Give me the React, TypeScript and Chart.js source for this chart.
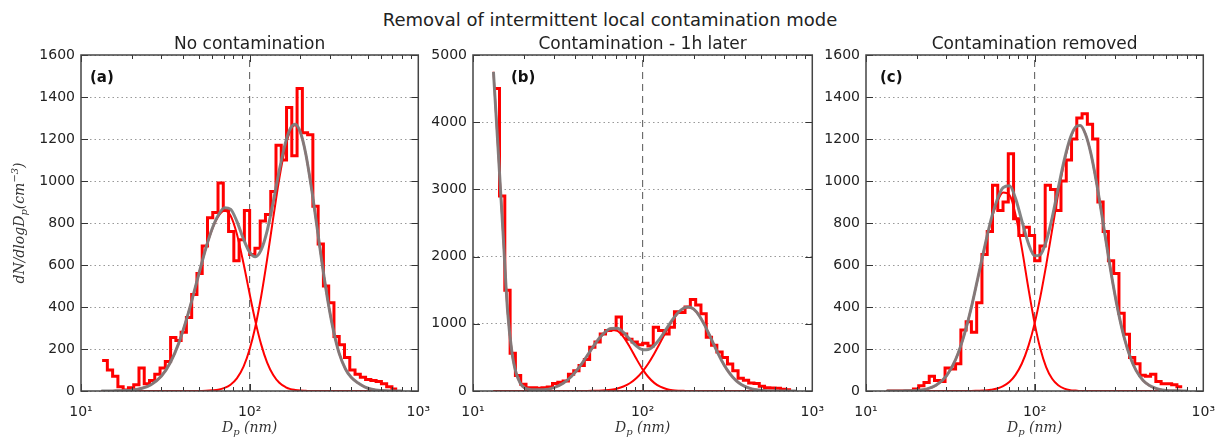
import React, { useEffect, useRef } from 'react';
import { Chart, registerables } from 'chart.js';

Chart.register(...registerables);

// ---------- data ----------
const mainTitle = 'Removal of intermittent local contamination mode';
const panelTitles = ['No contamination', 'Contamination - 1h later', 'Contamination removed'];
const panelLetters = ['(a)', '(b)', '(c)'];

const xMajorTicks = [10, 100, 1000];
const xMajorLabels = ['10¹', '10²', '10³'];
const xMinorTicks = [20, 30, 40, 50, 60, 70, 80, 90, 200, 300, 400, 500, 600, 700, 800, 900];
const dividerDiameter = 100;

// histogram bin edges (nm)
const binEdges = [
  13.34, 14.33, 15.40, 16.55, 17.78, 19.11, 20.54, 22.07, 23.71, 25.48,
  27.38, 29.43, 31.62, 33.98, 36.52, 39.24, 42.17, 45.32, 48.70, 52.33,
  56.23, 60.43, 64.94, 69.78, 74.99, 80.58, 86.60, 93.06, 100, 107.5,
  115.5, 124.1, 133.4, 143.3, 154.0, 165.5, 177.8, 191.1, 205.4, 220.7,
  237.1, 254.8, 273.8, 294.3, 316.2, 339.8, 365.2, 392.4, 421.7, 453.2,
  487.0, 523.3, 562.3, 604.3, 649.4, 697.8, 749.9,
];

const histA = [
  145, 100, 70, 20, 5, 15, 30, 110, 35, 50,
  80, 110, 140, 255, 240, 280, 350, 460, 560, 690,
  825, 850, 990, 860, 760, 620, 720, 860, 650, 680,
  810, 840, 950, 1170, 1100, 1350, 1120, 1440, 1230, 1220,
  880, 700, 500, 420, 260, 220, 160, 100, 80, 65,
  55, 50, 45, 35, 20, 10,
];
const histB = [
  4500, 2900, 1500, 560, 230, 100, 50, 50, 40, 50,
  60, 110, 130, 150, 250, 300, 380, 470, 650, 730,
  850, 900, 910, 1100, 850, 770, 730, 690, 710, 670,
  950, 900, 850, 950, 1180, 1170, 1250, 1360, 1280, 1150,
  800, 680, 580, 500, 400, 300, 190, 160, 120, 110,
  70, 50, 45, 40, 25, 20,
];
const histC = [
  0, 0, 0, 0, 0, 10, 25, 40, 70, 50,
  45, 110, 105, 130, 290, 330, 280, 420, 650, 760,
  980, 860, 900, 1130, 820, 740, 780, 740, 620, 690,
  980, 960, 860, 1000, 1100, 1200, 1300, 1320, 1270, 1200,
  900, 760, 620, 560, 370, 270, 160, 130, 75, 70,
  80, 45, 35, 35, 30, 20,
];

// fitted curves sampled at these diameters (nm)
const fitD = [
  13.2, 14, 15, 16, 17, 18, 20, 23, 26, 30,
  34, 38, 42, 46, 50, 55, 60, 65, 71, 77,
  84, 92, 100, 108, 117, 127, 138, 150, 163, 175,
  186, 200, 215, 232, 250, 270, 292, 315, 340, 370,
  400, 440, 480, 530, 600, 700, 800,
];

const modeA1 = [
  0, 0, 0, 1, 1, 2, 4, 13, 30, 71,
  138, 228, 335, 448, 558, 679, 771, 830, 858, 836,
  748, 607, 462, 334, 222, 135, 76, 39, 19, 9,
  5, 2, 1, 0, 0, 0, 0, 0, 0, 0,
  0, 0, 0, 0, 0, 0, 0,
];
const modeA2 = [
  0, 0, 0, 0, 0, 0, 0, 0, 0, 0,
  0, 0, 0, 0, 0, 1, 3, 6, 15, 30,
  60, 116, 199, 305, 450, 628, 824, 1013, 1163, 1243,
  1265, 1230, 1130, 972, 790, 598, 422, 283, 178, 105,
  65, 38, 20, 8, 2, 0, 0,
];
const totalA = [
  0, 0, 0, 1, 1, 2, 4, 13, 30, 71,
  138, 228, 335, 448, 558, 680, 774, 836, 873, 866,
  808, 723, 661, 639, 672, 763, 900, 1052, 1182, 1252,
  1270, 1232, 1131, 972, 790, 598, 422, 283, 178, 105,
  65, 38, 20, 8, 2, 0, 0,
];

const modeB0 = [
  4750, 3680, 2400, 1180, 560, 260, 50, 12, 3, 0,
  0, 0, 0, 0, 0, 0, 0, 0, 0, 0,
  0, 0, 0, 0, 0, 0, 0, 0, 0, 0,
  0, 0, 0, 0, 0, 0, 0, 0, 0, 0,
  0, 0, 0, 0, 0, 0, 0,
];
const modeB1 = [
  0, 0, 0, 0, 0, 0, 1, 5, 16, 50,
  116, 216, 344, 486, 623, 768, 867, 911, 895, 806,
  656, 475, 322, 208, 121, 64, 31, 13, 5, 2,
  0, 0, 0, 0, 0, 0, 0, 0, 0, 0,
  0, 0, 0, 0, 0, 0, 0,
];
const modeB2 = [
  0, 0, 0, 0, 0, 0, 0, 0, 0, 0,
  0, 0, 0, 1, 2, 5, 10, 19, 38, 67,
  115, 193, 293, 410, 556, 722, 893, 1050, 1170, 1233,
  1250, 1218, 1126, 980, 810, 627, 455, 315, 206, 119,
  68, 31, 14, 5, 1, 0, 0,
];
const totalB = [
  4750, 3680, 2400, 1180, 560, 260, 51, 17, 19, 50,
  116, 216, 344, 487, 625, 773, 877, 930, 933, 873,
  771, 668, 615, 618, 677, 786, 924, 1063, 1175, 1235,
  1250, 1218, 1126, 980, 810, 627, 455, 315, 206, 119,
  68, 31, 14, 5, 1, 0, 0,
];

const modeC1 = [
  0, 0, 0, 0, 1, 1, 3, 10, 27, 72,
  150, 260, 393, 535, 668, 807, 900, 945, 933, 841,
  679, 485, 322, 202, 114, 58, 27, 11, 4, 2,
  0, 0, 0, 0, 0, 0, 0, 0, 0, 0,
  0, 0, 0, 0, 0, 0, 0,
];
const modeC2 = [
  0, 0, 0, 0, 0, 0, 0, 0, 0, 0,
  0, 0, 0, 1, 2, 6, 12, 23, 44, 77,
  131, 216, 322, 447, 598, 767, 939, 1091, 1203, 1255,
  1264, 1224, 1135, 999, 842, 671, 506, 367, 253, 158,
  97, 50, 26, 11, 3, 1, 0,
];
const totalC = [
  0, 0, 0, 0, 1, 1, 3, 10, 27, 72,
  150, 260, 393, 536, 670, 813, 912, 968, 977, 918,
  810, 701, 644, 649, 712, 825, 966, 1102, 1207, 1257,
  1264, 1224, 1135, 999, 842, 671, 506, 367, 253, 158,
  97, 50, 26, 11, 3, 1, 0,
];

const yMaxes = [1600, 5000, 1600];
const ySteps = [200, 1000, 200];

// ---------- drawing helpers ----------
type Part = { t: string; size: number; dy?: number };
const SERIF = '"DejaVu Serif", serif';
const SANS = '"DejaVu Sans", sans-serif';

function drawRich(ctx: CanvasRenderingContext2D, parts: Part[], cx: number, baseline: number) {
  let total = 0;
  const widths = parts.map((p) => {
    ctx.font = `italic ${p.size}px ${SERIF}`;
    const w = ctx.measureText(p.t).width;
    total += w;
    return w;
  });
  let x = cx - total / 2;
  ctx.textAlign = 'left';
  ctx.textBaseline = 'alphabetic';
  parts.forEach((p, i) => {
    ctx.font = `italic ${p.size}px ${SERIF}`;
    ctx.fillText(p.t, x, baseline + (p.dy || 0));
    x += widths[i];
  });
}

const xLabelParts: Part[] = [
  { t: 'D', size: 14 },
  { t: 'p', size: 10, dy: 3 },
  { t: ' (nm)', size: 14 },
];
const yLabelParts: Part[] = [
  { t: 'dN/dlogD', size: 14 },
  { t: 'p', size: 10, dy: 3 },
  { t: '(cm', size: 14 },
  { t: '−3', size: 10, dy: -6 },
  { t: ')', size: 14 },
];

type PanelCfg = {
  left: number;
  width: number;
  yAxisWidth: number;
  padRight: number;
  hist: number[];
  modes: number[][];
  total: number[];
  yMax: number;
  yStep: number;
  title: string;
  letter: string;
  letterX: number;
  yLabel: boolean;
};

function makeDecor(cfg: PanelCfg) {
  return {
    id: 'decor',
    afterDatasetsDraw(chart: any) {
      const ctx: CanvasRenderingContext2D = chart.ctx;
      const a = chart.chartArea;
      const xs = chart.scales.x;
      const ys = chart.scales.y;
      ctx.save();
      ctx.strokeStyle = '#333';
      ctx.lineWidth = 1;
      const vtick = (v: number, len: number) => {
        const px = Math.round(xs.getPixelForValue(v)) + 0.5;
        ctx.beginPath();
        ctx.moveTo(px, a.bottom);
        ctx.lineTo(px, a.bottom - len);
        ctx.moveTo(px, a.top);
        ctx.lineTo(px, a.top + len);
        ctx.stroke();
      };
      xMajorTicks.forEach((v) => vtick(v, 7));
      xMinorTicks.forEach((v) => vtick(v, 4));
      ys.ticks.forEach((t: any) => {
        const py = Math.round(ys.getPixelForValue(t.value)) + 0.5;
        ctx.beginPath();
        ctx.moveTo(a.left, py);
        ctx.lineTo(a.left + 7, py);
        ctx.moveTo(a.right, py);
        ctx.lineTo(a.right - 7, py);
        ctx.stroke();
      });
      ctx.strokeStyle = '#444';
      ctx.lineWidth = 1.5;
      ctx.strokeRect(a.left, a.top, a.right - a.left, a.bottom - a.top);

      ctx.fillStyle = '#111';
      ctx.font = `bold 15px ${SANS}`;
      ctx.textAlign = 'left';
      ctx.textBaseline = 'middle';
      ctx.fillText(cfg.letter, cfg.letterX, 78);

      ctx.fillStyle = '#222';
      ctx.font = `17px ${SANS}`;
      ctx.textAlign = 'center';
      ctx.textBaseline = 'alphabetic';
      ctx.fillText(cfg.title, (a.left + a.right) / 2, 49);

      ctx.fillStyle = '#333';
      drawRich(ctx, xLabelParts, (a.left + a.right) / 2, 432);

      if (cfg.yLabel) {
        ctx.save();
        ctx.translate(19, (a.top + a.bottom) / 2);
        ctx.rotate(-Math.PI / 2);
        drawRich(ctx, yLabelParts, 0, 5);
        ctx.restore();
      }
      ctx.restore();
    },
  };
}

function Panel({ cfg }: { cfg: PanelCfg }) {
  const ref = useRef<HTMLCanvasElement>(null);
  useEffect(() => {
    if (!ref.current) return;
    const toPts = (arr: number[]) => fitD.map((x, i) => ({ x, y: arr[i] }));
    const histPts = binEdges.map((x, i) => ({ x, y: cfg.hist[Math.min(i, cfg.hist.length - 1)] }));
    const datasets: any[] = [
      {
        data: toPts(cfg.total),
        borderColor: 'rgba(125,125,125,0.95)',
        borderWidth: 3,
        cubicInterpolationMode: 'monotone',
        pointRadius: 0,
        fill: false,
      },
      ...cfg.modes.map((m) => ({
        data: toPts(m),
        borderColor: '#ff0000',
        borderWidth: 2,
        cubicInterpolationMode: 'monotone',
        pointRadius: 0,
        fill: false,
      })),
      {
        data: histPts,
        borderColor: '#ff0000',
        borderWidth: 3,
        stepped: 'before',
        pointRadius: 0,
        fill: false,
      },
      {
        data: [
          { x: dividerDiameter, y: 0 },
          { x: dividerDiameter, y: cfg.yMax },
        ],
        borderColor: '#555',
        borderWidth: 1,
        borderDash: [7, 5],
        pointRadius: 0,
        fill: false,
      },
    ];
    const chart = new Chart(ref.current, {
      type: 'line',
      data: { datasets },
      options: {
        animation: false,
        responsive: false,
        devicePixelRatio: 1,
        events: [],
        layout: { padding: { top: 55, right: cfg.padRight, bottom: 0, left: 0 } },
        plugins: { legend: { display: false }, tooltip: { enabled: false }, title: { display: false } },
        scales: {
          x: {
            type: 'logarithmic',
            min: 10,
            max: 1000,
            grid: { display: false },
            border: { display: false },
            afterBuildTicks: (scale: any) => {
              scale.ticks = xMajorTicks.map((v) => ({ value: v }));
            },
            afterFit: (scale: any) => {
              scale.height = 46;
            },
            ticks: {
              autoSkip: false,
              maxRotation: 0,
              padding: 5,
              color: '#222',
              font: { family: SANS, size: 14 },
              callback: (v: any) => {
                const i = xMajorTicks.indexOf(Number(v));
                return i >= 0 ? xMajorLabels[i] : '';
              },
            },
          },
          y: {
            type: 'linear',
            min: 0,
            max: cfg.yMax,
            grid: { color: '#999', lineWidth: 1, drawTicks: false },
            border: { display: false, dash: [1.5, 3] },
            afterFit: (scale: any) => {
              scale.width = cfg.yAxisWidth;
            },
            ticks: {
              stepSize: cfg.yStep,
              padding: 6,
              color: '#222',
              font: { family: SANS, size: 14 },
              callback: (v: any) => String(v),
            },
          },
        },
      },
      plugins: [makeDecor(cfg)],
    } as any);
    return () => chart.destroy();
  }, [cfg]);
  return (
    <canvas
      ref={ref}
      width={cfg.width}
      height={437}
      style={{ position: 'absolute', left: cfg.left, top: 0, width: cfg.width, height: 437 }}
    />
  );
}

const panelCfgs: PanelCfg[] = [
  {
    left: 0, width: 435, yAxisWidth: 81, padRight: 14,
    hist: histA, modes: [modeA1, modeA2], total: totalA,
    yMax: yMaxes[0], yStep: ySteps[0], title: panelTitles[0], letter: panelLetters[0], letterX: 90, yLabel: true,
  },
  {
    left: 425, width: 404, yAxisWidth: 48, padRight: 14,
    hist: histB, modes: [modeB0, modeB1, modeB2], total: totalB,
    yMax: yMaxes[1], yStep: ySteps[1], title: panelTitles[1], letter: panelLetters[1], letterX: 86, yLabel: false,
  },
  {
    left: 818, width: 402, yAxisWidth: 48, padRight: 12,
    hist: histC, modes: [modeC1, modeC2], total: totalC,
    yMax: yMaxes[2], yStep: ySteps[2], title: panelTitles[2], letter: panelLetters[2], letterX: 62, yLabel: false,
  },
];

export default function App() {
  return (
    <div
      style={{
        position: 'fixed', left: 0, top: 0, width: 1220, height: 437,
        background: '#fff', overflow: 'hidden',
      }}
    >
      <div
        style={{
          position: 'absolute', left: 0, top: 9, width: 1220, textAlign: 'center',
          font: `18px ${SANS}`, lineHeight: '22px', color: '#222',
        }}
      >
        {mainTitle}
      </div>
      {panelCfgs.map((c, i) => (
        <Panel key={i} cfg={c} />
      ))}
    </div>
  );
}
